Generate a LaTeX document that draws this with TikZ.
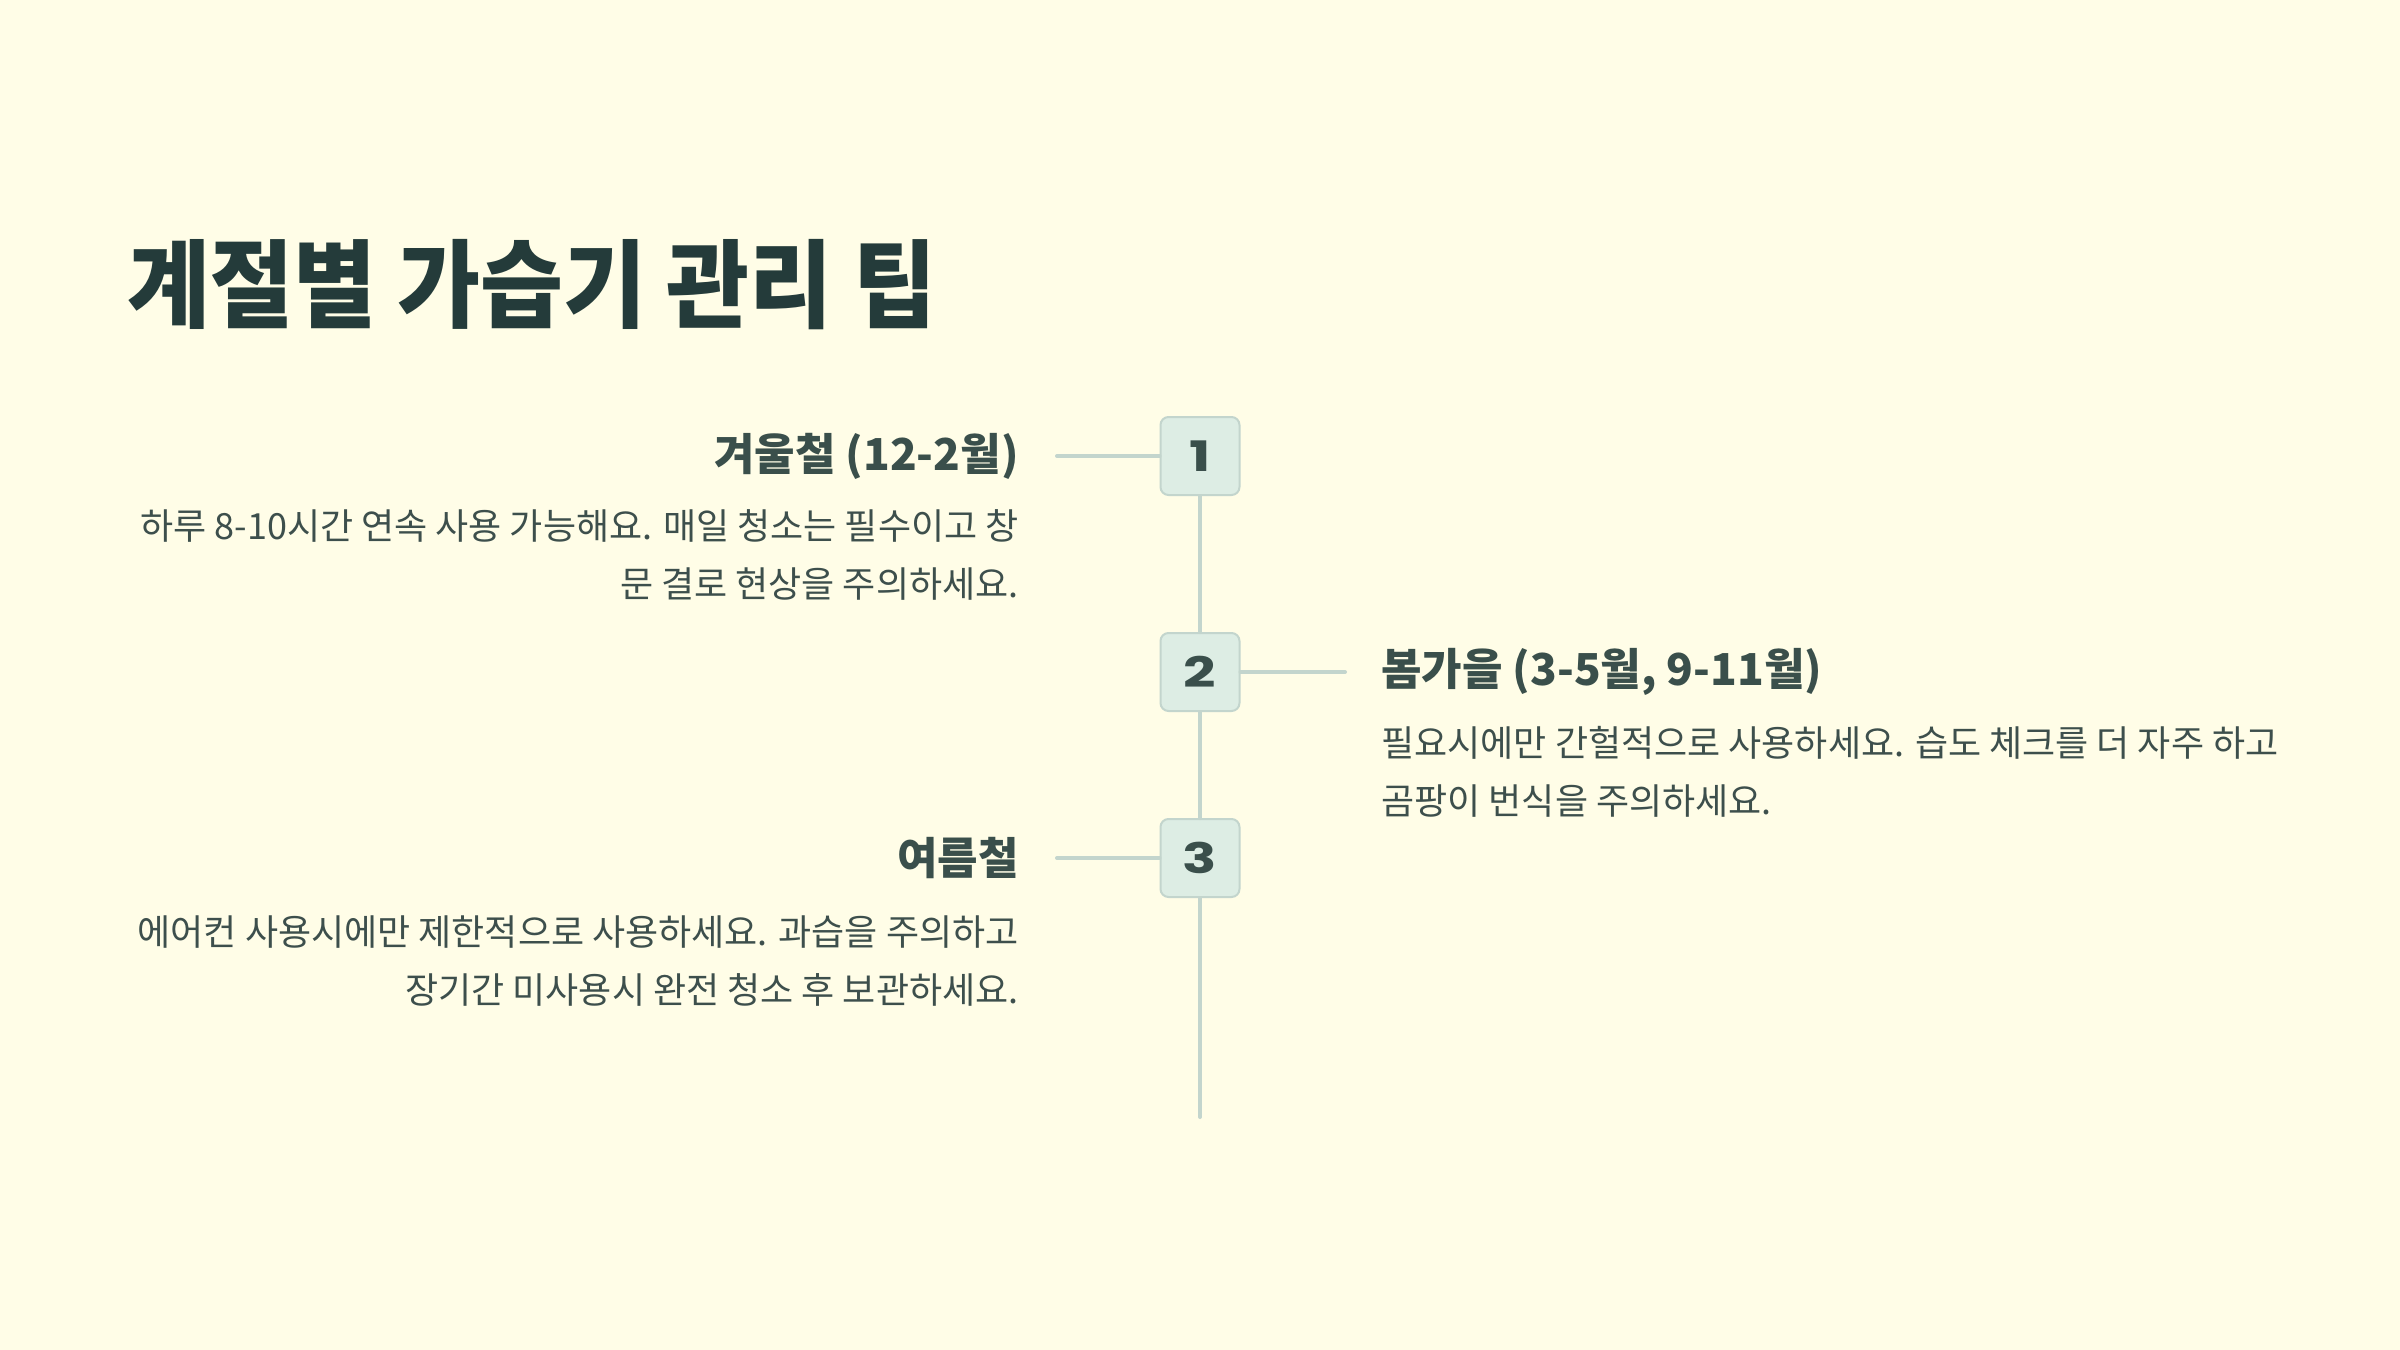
\documentclass[tikz,border=0pt]{standalone}
\usepackage{fontspec}
\usepackage{xcolor}
\usepackage{tikz}
\usetikzlibrary{positioning}
\setmainfont{Noto Sans CJK KR}
\newfontfamily\titlefont[FakeStretch=0.94]{Noto Sans CJK KR}
\newfontfamily\numfont[FakeStretch=1.35]{Poppins}
\definecolor{bgcream}{HTML}{FFFDE7}
\definecolor{titleclr}{HTML}{243B3A}
\definecolor{headclr}{HTML}{3A4F4B}
\definecolor{bodyclr}{HTML}{3D4F4C}
\definecolor{lineclr}{HTML}{C3D5CD}
\definecolor{boxclr}{HTML}{DDEDE4}

\begin{document}
\begin{tikzpicture}[x=0.5pt,y=-0.5pt,
  stepbox/.style={draw=lineclr, line width=1pt, fill=boxclr, rounded corners=4pt,
    minimum width=39.5pt, minimum height=39pt, inner sep=0pt,
    font=\numfont\bfseries\fontsize{21}{21}\selectfont, text=headclr},
  link/.style={lineclr, line width=2pt, line cap=round},
  head/.style={font=\bfseries\fontsize{22}{26}\selectfont, text=headclr, inner sep=0pt},
  body/.style={font=\fontsize{18}{29}\selectfont, text=bodyclr, inner sep=0pt}]

  % --- Background and frame ---
  \fill[bgcream] (0,0) rectangle (2400,1350);
  \useasboundingbox (0,0) rectangle (2400,1350);

  % --- Title ---
  \node[anchor=west, inner sep=0pt, text=titleclr, font=\titlefont\bfseries\fontsize{48}{56}\selectfont]
    (title) at (127,285) {계절별 가습기 관리 팁};

  % --- Timeline steps ---
  \node[stepbox] (n1) at (1200,456) {1};
  \node[stepbox] (n2) at (1200,672) {2};
  \node[stepbox] (n3) at (1200,858) {3};
  \coordinate (c1) at (1057,456);
  \coordinate (c2) at (1345,672);
  \coordinate (c3) at (1057,858);
  \coordinate (cend) at (1200,1117);

  % spine and branches
  \draw[link] (n1) -- (n2);
  \draw[link] (n2) -- (n3);
  \draw[link] (n3) -- (cend);
  \draw[link] (c1) -- (n1);
  \draw[link] (n2) -- (c2);
  \draw[link] (c3) -- (n3);

  % --- Winter (left) ---
  \node[head, left=19pt of c1] (h1) {겨울철 (12-2월)};
  \node[body, align=right, below left=15pt and 0pt of h1.south east] (t1)
    {하루 8-10시간 연속 사용 가능해요. 매일 청소는 필수이고 창\\문 결로 현상을 주의하세요.};

  % --- Spring / autumn (right) ---
  \node[head, right=18pt of c2] (h2) {봄가을 (3-5월, 9-11월)};
  \node[body, align=left, below right=15pt and 0pt of h2.south west] (t2)
    {필요시에만 간헐적으로 사용하세요. 습도 체크를 더 자주 하고\\곰팡이 번식을 주의하세요.};

  % --- Summer (left) ---
  \node[head, left=19pt of c3] (h3) {여름철};
  \node[body, align=right, below left=18pt and 0pt of h3.south east] (t3)
    {에어컨 사용시에만 제한적으로 사용하세요. 과습을 주의하고\\장기간 미사용시 완전 청소 후 보관하세요.};
\end{tikzpicture}
\end{document}
